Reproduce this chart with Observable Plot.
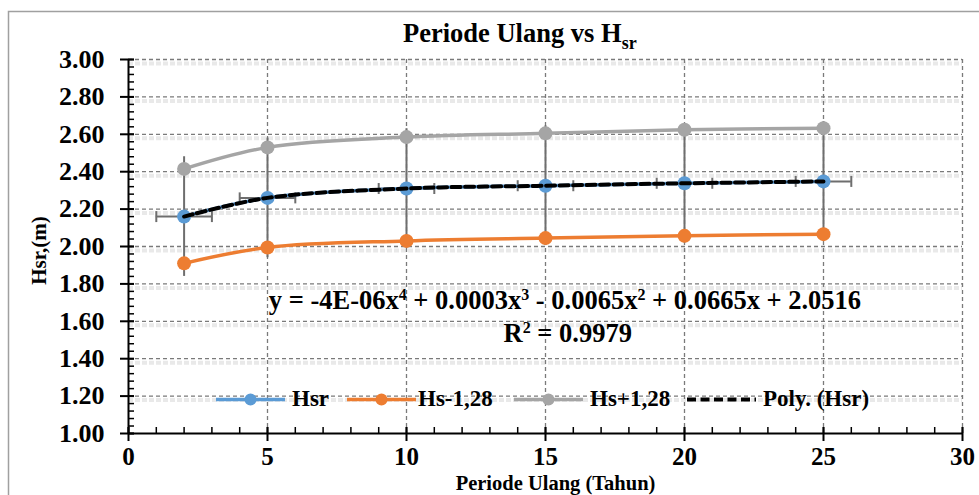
<!DOCTYPE html>
<html><head><meta charset="utf-8">
<script src="https://cdn.jsdelivr.net/npm/d3@7"></script>
<script src="https://cdn.jsdelivr.net/npm/@observablehq/plot@0.6"></script>
<style>
html,body{margin:0;padding:0;background:#fff;overflow:hidden}
#wrap{position:relative;width:979px;height:495px;background:#fff}
#wrap svg{position:absolute;left:0;top:0}
</style></head><body><div id="wrap"></div>
<script>
// ---- data ----
const periods = [2, 5, 10, 15, 20, 25];
const hsr     = [2.16, 2.26, 2.31, 2.325, 2.338, 2.348];
const hsMinus = [1.91, 1.995, 2.03, 2.045, 2.057, 2.066];
const hsPlus  = [2.415, 2.53, 2.585, 2.605, 2.624, 2.633];
const errY    = [0.32, 0.32, 0.32, 0.32, 0.32, 0.32];
const errX    = [1, 1, 1, 1, 1, 1];
const yTicks  = [1.0, 1.2, 1.4, 1.6, 1.8, 2.0, 2.2, 2.4, 2.6, 2.8, 3.0];
const xTicks  = [0, 5, 10, 15, 20, 25, 30];
const seriesNames = ["Hsr", "Hs-1,28", "Hs+1,28", "Poly. (Hsr)"];
const colors = ["#5B9BD5", "#ED7D31", "#A5A5A5", "#000000"];
const titleMain = "Periode Ulang vs H", titleSub = "sr";
const xTitle = "Periode Ulang (Tahun)", yTitle = "Hsr,(m)";
const equation = "y = -4E-06x^4 + 0.0003x^3 - 0.0065x^2 + 0.0665x + 2.0516";
const rSquared = "R^2 = 0.9979";
const eqPos = {x: 15.7, y: 1.71}, r2Pos = {x: 15.8, y: 1.535};

const rows = periods.map((x, i) => ({x, hsr: hsr[i], lo: hsMinus[i], hi: hsPlus[i], ey: errY[i], ex: errX[i]}));
const yMinor = d3.range(1, 3.0001, 0.04);
const xMinor = d3.range(0, 30.0001, 1);

const FONT = "'Liberation Serif','Times New Roman',serif";
const gridC = "#7a7a7a";
const errC = "#6e6e6e";
const capSymbol = {draw(ctx, size) { const r = Math.sqrt(size / Math.PI); ctx.moveTo(0, -r); ctx.lineTo(0, r); }};

const chart = Plot.plot({
  width: 979, height: 495,
  marginLeft: 128, marginRight: 17, marginTop: 59, marginBottom: 62,
  x: {domain: [0, 30]},
  y: {domain: [1, 3]},
  style: {fontFamily: FONT, color: "black", background: "transparent", overflow: "visible"},
  marks: [
    Plot.ruleY(yTicks.slice(1), {stroke: "#e9e9e9", strokeWidth: 4, dy: 4, strokeDasharray: "5,2"}),
    Plot.ruleY(yTicks.slice(1), {stroke: gridC, strokeWidth: 1.3, strokeDasharray: "4,3"}),
    Plot.ruleX(xTicks.slice(1), {stroke: gridC, strokeWidth: 1.3, strokeDasharray: "4,3"}),
    Plot.ruleX([0], {stroke: "black", strokeWidth: 2}),
    Plot.ruleY([1], {stroke: "black", strokeWidth: 2}),
    Plot.axisY(yTicks, {tickSize: 14, dx: 6, tickFormat: () => "", label: null, strokeWidth: 2}),
    Plot.axisY(yMinor, {tickSize: 6, dx: 6, tickFormat: () => "", label: null, strokeWidth: 1.5}),
    Plot.axisY(yTicks, {tickSize: 0, tickPadding: 24, tickFormat: d => d.toFixed(2), label: null, fontSize: 26, fontWeight: "bold"}),
    Plot.axisX(xTicks, {tickSize: 14, dy: -6, tickFormat: () => "", label: null, strokeWidth: 2}),
    Plot.axisX(xMinor, {tickSize: 6, dy: -6, tickFormat: () => "", label: null, strokeWidth: 1.5}),
    Plot.axisX(xTicks, {tickSize: 0, tickPadding: 14, label: null, fontSize: 25, fontWeight: "bold"}),
    Plot.text([yTitle], {text: d => d, frameAnchor: "left", dx: -89, dy: 4, rotate: -90, textAnchor: "middle", lineAnchor: "middle", fontSize: 21, fontWeight: "bold"}),
    Plot.text([xTitle], {text: d => d, frameAnchor: "bottom", dx: 10, dy: 50, textAnchor: "middle", lineAnchor: "middle", fontSize: 20.5, fontWeight: "bold"}),
    // error bars
    Plot.ruleX(rows, {x: "x", y1: d => d.hsr - d.ey, y2: d => d.hsr + d.ey, stroke: errC, strokeWidth: 2}),
    Plot.ruleY(rows, {y: "hsr", x1: d => d.x - d.ex, x2: d => d.x + d.ex, stroke: errC, strokeWidth: 2}),
    Plot.dot(rows, {x: d => d.x - d.ex, y: "hsr", symbol: capSymbol, r: 5.5, stroke: errC, strokeWidth: 2, fill: "none"}),
    Plot.dot(rows, {x: d => d.x + d.ex, y: "hsr", symbol: capSymbol, r: 5.5, stroke: errC, strokeWidth: 2, fill: "none"}),
    // series
    Plot.line(rows, {x: "x", y: "hsr", stroke: colors[0], strokeWidth: 3.5, curve: "catmull-rom"}),
    Plot.dot(rows, {x: "x", y: "hsr", r: 7, fill: colors[0], stroke: "none"}),
    Plot.line(rows, {x: "x", y: "lo", stroke: colors[1], strokeWidth: 3.5, curve: "catmull-rom"}),
    Plot.dot(rows, {x: "x", y: "lo", r: 7, fill: colors[1], stroke: "none"}),
    Plot.line(rows, {x: "x", y: "hi", stroke: colors[2], strokeWidth: 3.5, curve: "catmull-rom"}),
    Plot.dot(rows, {x: "x", y: "hi", r: 7, fill: colors[2], stroke: "none"}),
    // polynomial trend
    Plot.line(rows, {x: "x", y: "hsr", stroke: colors[3], strokeWidth: 4, strokeDasharray: "9,4.5", curve: "catmull-rom"}),
    // equation
    Plot.text([{t: equation, ...eqPos}], {x: "x", y: "y", text: "t", fontSize: 26.5, fontWeight: "bold", textAnchor: "middle"}),
    Plot.text([{t: rSquared, ...r2Pos}], {x: "x", y: "y", text: "t", fontSize: 26.5, fontWeight: "bold", textAnchor: "middle"})
  ]
});

const wrap = document.getElementById("wrap");
wrap.appendChild(chart);

// superscripts
d3.select(chart).selectAll("text").filter(function() { return this.textContent.includes("^"); }).each(function() {
  const el = d3.select(this);
  const parts = this.textContent.split(/\^(\d)/);
  el.text(null);
  let raised = false;
  parts.forEach((p, i) => {
    if (p === "") return;
    const ts = el.append("tspan").text(p);
    if (i % 2 === 1) { ts.attr("font-size", 16).attr("dy", -9); raised = true; }
    else if (raised) { ts.attr("dy", 9); raised = false; }
  });
});

// overlay: border, title, legend
const ov = d3.select(wrap).append("svg").attr("width", 979).attr("height", 495)
  .style("pointer-events", "none").attr("font-family", FONT);
ov.append("path").attr("d", "M8.5,495V11.5H979").attr("fill", "none").attr("stroke", "#a0a0a0").attr("stroke-width", 1.5);
const t = ov.append("text").attr("x", 403).attr("y", 42).attr("font-size", 26.5).attr("font-weight", "bold").attr("fill", "black");
t.append("tspan").text(titleMain);
t.append("tspan").attr("font-size", 18).attr("dy", 7).text(titleSub);

const legendItems = [
  {x1: 216, x2: 285, tx: 292},
  {x1: 347, x2: 416, tx: 418},
  {x1: 514, x2: 583, tx: 590},
  {x1: 687, x2: 756, tx: 763}
];
const ly = 399.5;
legendItems.forEach((it, i) => {
  const g = ov.append("g");
  if (i < 3) {
    g.append("line").attr("x1", it.x1).attr("x2", it.x2).attr("y1", ly).attr("y2", ly).attr("stroke", colors[i]).attr("stroke-width", 3.5);
    g.append("circle").attr("cx", (it.x1 + it.x2) / 2).attr("cy", ly).attr("r", 6).attr("fill", colors[i]);
  } else {
    g.append("line").attr("x1", it.x1).attr("x2", it.x2).attr("y1", ly).attr("y2", ly).attr("stroke", colors[i]).attr("stroke-width", 4).attr("stroke-dasharray", "9,4.5");
  }
  g.append("text").attr("x", it.tx).attr("y", 406).attr("font-size", 23).attr("font-weight", "bold").attr("fill", "black").text(seriesNames[i]);
});
</script></body></html>
